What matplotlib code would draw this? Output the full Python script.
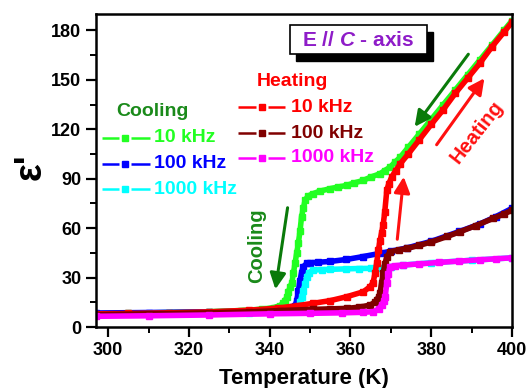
import matplotlib
matplotlib.use("Agg")
import matplotlib.pyplot as plt
from matplotlib.patches import Rectangle, FancyArrowPatch
from matplotlib.lines import Line2D

plt.rcParams['font.family'] = ['Liberation Sans', 'DejaVu Sans']
plt.rcParams['font.weight'] = 'bold'
plt.rcParams['mathtext.fontset'] = 'custom'
plt.rcParams['mathtext.it'] = 'Liberation Sans:italic:bold'
plt.rcParams['mathtext.rm'] = 'Liberation Sans:bold'

# ---------------- data ----------------
cool10_T = [297, 305, 315, 325, 333, 338, 341, 342.6, 343.3, 343.8, 344.3, 344.6, 345.0, 345.5, 345.9,
            346.3, 346.7, 347.1, 347.5, 347.9, 348.3, 348.8, 349.5, 350.8, 352.5, 355, 357, 359.1, 361,
            363.2, 365, 367.3, 368.5, 369.8, 371, 372.3, 374.3, 377, 380, 383, 386, 389, 392, 395, 398, 400]
cool10_E = [8.0, 8.3, 8.8, 9.3, 10, 10.8, 11.8, 13, 14.5, 16, 18.5, 21, 24, 27, 33,
            39, 45, 51, 58, 67, 72, 77, 79.5, 81, 82.5, 84, 85, 86, 87.5,
            89, 91, 93, 95, 97, 100, 103, 109, 117, 126, 135, 144, 153, 162, 171, 180, 186]

cool100_T = [297, 310, 325, 335, 340, 343, 345, 345.8, 346.3, 346.7, 347.1, 347.5, 347.9, 348.3, 349.2,
             350, 352, 355, 359, 363, 367.3, 370, 374, 380, 387, 392, 396, 400]
cool100_E = [8.5, 8.8, 9.2, 9.6, 10, 10.5, 11, 12, 13, 16, 22, 28, 33, 36.6, 38.6,
             39, 39.3, 39.8, 41, 42.7, 44.7, 46, 48, 52, 58, 62.5, 67, 72]

cool1000_T = [297, 310, 325, 335, 340, 344, 346, 346.7, 347.1, 347.5, 347.9, 348.3, 348.8, 349.2, 349.7,
              350.8, 353, 355, 359, 362, 365, 367, 370, 373, 380, 390, 400]
cool1000_E = [7.5, 7.8, 8.2, 8.6, 9, 9.5, 10, 11, 12, 15, 18, 22, 26, 30.5, 33,
              34.6, 34.8, 35, 35.3, 35.5, 35.6, 35.8, 36.6, 37.6, 39, 40.5, 42]

heat10_T = [297, 305, 315, 325, 335, 342, 347, 350.8, 355, 359.1, 363.2, 364.9, 365.6, 366.1, 366.5,
            366.9, 367.3, 367.7, 368.1, 368.5, 369.0, 369.5, 370.2, 371.2, 372.3, 374.3, 377, 380, 383,
            386, 389, 392, 395, 398, 400]
heat10_E = [8.0, 8.2, 8.6, 9.2, 10.2, 11.5, 13, 14.4, 16, 18.4, 21.4, 24.5, 27, 32.6, 39,
            46.7, 52, 57, 62, 70, 83, 87, 91, 95, 99, 105, 113.5, 123, 132,
            142, 151, 160, 170, 179, 185]

heat100_T = [297, 310, 325, 335, 342.6, 350.8, 355, 359.1, 362, 364.9, 366, 366.5, 367, 367.3, 367.7,
             368.1, 368.5, 369, 369.8, 372, 374, 377, 380, 384, 387.1, 391, 395.4, 398, 400]
heat100_E = [7.5, 8, 8.6, 9.2, 10, 10.7, 11, 11.3, 12, 13.3, 15, 16.4, 18.5, 20.4, 26.5,
             32.6, 38, 42.5, 45.7, 46.8, 47.7, 49.5, 51.6, 55, 57.8, 61.5, 66, 68.5, 71]

heat1000_T = [297, 310, 325, 340, 350, 358, 363, 365.7, 367, 367.7, 368.2, 368.6, 369, 369.4, 369.8,
              371, 373.1, 377, 382, 387, 392, 396, 400]
heat1000_E = [6.5, 6.8, 7.3, 8, 8.3, 8.6, 8.9, 9.3, 11, 13.3, 15.5, 18.4, 26.5, 32, 36.6,
              37.2, 37.6, 38.3, 39.2, 40, 40.8, 41.4, 42]

freq_labels = ['10 kHz', '100 kHz', '1000 kHz']
cool_colors = ['#22ff22', '#0000ff', '#00ffff']
heat_colors = ['#ff0000', '#800000', '#ff00ff']

# ---------------- figure ----------------
W, H = 527, 388
fig = plt.figure(figsize=(W / 100, H / 100), dpi=100)
L, R, T, B = 96, 512, 14, 327
ax = fig.add_axes([L / W, 1 - B / H, (R - L) / W, (B - T) / H])

cool = [(cool10_T, cool10_E), (cool100_T, cool100_E), (cool1000_T, cool1000_E)]
heat = [(heat10_T, heat10_E), (heat100_T, heat100_E), (heat1000_T, heat1000_E)]

for (t, e), c in zip(cool, cool_colors):
    ax.plot(t, e, '-', color=c, lw=4.0, marker='s', ms=4, mec=c, mfc=c, solid_capstyle='butt')
for (t, e), c in zip(heat, heat_colors):
    ax.plot(t, e, '-', color=c, lw=4.0, marker='s', ms=4, mec=c, mfc=c, solid_capstyle='butt')

ax.set_xlim(297, 400)
ax.set_ylim(0, 190)
ax.set_xticks([300, 320, 340, 360, 380, 400])
ax.set_xticks([310, 330, 350, 370, 390], minor=True)
ax.set_yticks([0, 30, 60, 90, 120, 150, 180])
ax.set_yticks([15, 45, 75, 105, 135, 165], minor=True)
ax.tick_params(which='major', direction='out', length=7, width=1.6, labelsize=13,
               top=False, right=False)
ax.tick_params(which='minor', direction='out', length=4, width=1.4, top=False, right=False)
for lab in ax.get_xticklabels() + ax.get_yticklabels():
    lab.set_fontweight('bold')
for s in ax.spines.values():
    s.set_linewidth(1.8)

ax.set_xlabel('Temperature (K)', fontsize=16, fontweight='bold', labelpad=7)
fig.text(31 / W, 1 - 167 / H, "\u03b5'", rotation=90, fontsize=27, fontweight='bold',
         ha='center', va='center')

# ---------------- legends (manual) ----------------
def fx(px):
    return (px - L) / (R - L)

def fy(py):
    return (B - py) / (B - T)

LFS = 14

def handle(x0, x1, xm, yy, c):
    ax.add_line(Line2D([fx(x0), fx(xm - 6)], [yy, yy], color=c, lw=1.8,
                       solid_capstyle='butt', transform=ax.transAxes))
    ax.add_line(Line2D([fx(xm + 6), fx(x1)], [yy, yy], color=c, lw=1.8,
                       solid_capstyle='butt', transform=ax.transAxes))
    ax.add_line(Line2D([fx(xm)], [yy], color=c, marker='s', ms=3.8, lw=0, transform=ax.transAxes))

ax.text(fx(116), fy(112), 'Cooling', color='#1a8a1a', fontsize=LFS, fontweight='bold',
        transform=ax.transAxes, va='center', ha='left')
for i, (lab, c) in enumerate(zip(freq_labels, cool_colors)):
    yy = fy([138, 164, 189][i])
    handle(102, 150, 124.5, yy, c)
    ax.text(fx(154), yy, lab, color=c, fontsize=LFS, fontweight='bold',
            transform=ax.transAxes, va='center', ha='left')

ax.text(fx(257), fy(82), 'Heating', color='#ff0000', fontsize=LFS, fontweight='bold',
        transform=ax.transAxes, va='center', ha='left')
for i, (lab, c) in enumerate(zip(freq_labels, heat_colors)):
    yy = fy([107, 133, 158][i])
    handle(238, 285, 261.5, yy, c)
    ax.text(fx(291), yy, lab, color=c, fontsize=LFS, fontweight='bold',
            transform=ax.transAxes, va='center', ha='left')

# ---------------- box "E // C - axis" ----------------
bx0, by0, bx1, by1 = 290, 25, 427, 54
fig.add_artist(Rectangle(((bx0 + 6) / W, 1 - (by1 + 7) / H), (bx1 - bx0) / W, (by1 - by0) / H,
                         transform=fig.transFigure, facecolor='black', edgecolor='black', zorder=5))
fig.add_artist(Rectangle((bx0 / W, 1 - by1 / H), (bx1 - bx0) / W, (by1 - by0) / H,
                         transform=fig.transFigure, facecolor='white', edgecolor='black', lw=1.2, zorder=6))
fig.text((bx0 + bx1) / 2 / W, 1 - 40 / H, r'E // $\mathit{C}$ - axis', color='#8e1cc8', fontsize=15,
         fontweight='bold', ha='center', va='center', zorder=7)

# ---------------- arrows & annotations ----------------
def arrow(p0, p1, color, lw=2.2):
    a = FancyArrowPatch(((p0[0]) / W, 1 - p0[1] / H), (p1[0] / W, 1 - p1[1] / H),
                        transform=fig.transFigure, arrowstyle='-|>,head_length=0.6,head_width=0.3',
                        mutation_scale=16, color=color, lw=lw, zorder=8)
    fig.add_artist(a)

arrow((470, 52), (413, 129), '#0a7a0a')
arrow((435, 147), (486, 76), '#ff1010')
arrow((288, 205), (275, 292), '#0a7a0a')
arrow((397, 242), (404, 174), '#ff1010')

fig.text(477 / W, 1 - 132 / H, 'Heating', color='#ff1010', fontsize=14.5, fontweight='bold',
         rotation=52, ha='center', va='center')
fig.text(257 / W, 1 - 246 / H, 'Cooling', color='#1a8a1a', fontsize=14.5, fontweight='bold',
         rotation=90, ha='center', va='center')

fig.savefig('out.png', dpi=100)
